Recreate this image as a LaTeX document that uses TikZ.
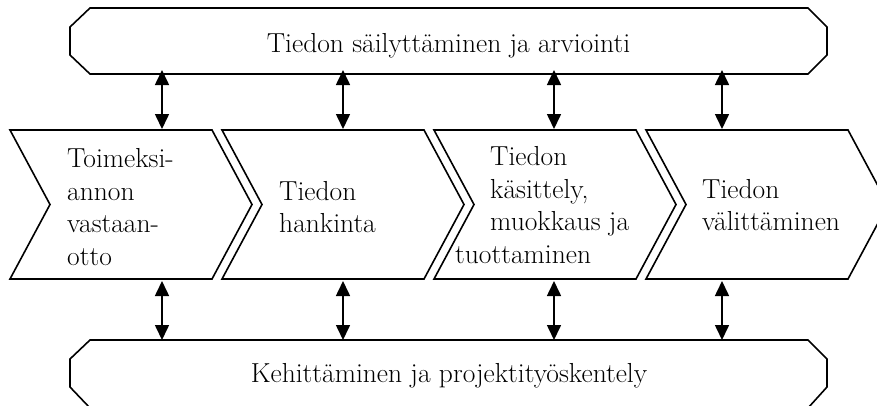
\documentclass[tikz,border=0pt]{standalone}
\usepackage{fontspec}
\usetikzlibrary{arrows.meta}
\begin{document}
\begin{tikzpicture}[x=1pt,y=-1pt,
  outline/.style={draw=black, line width=1.6pt, line join=miter},
  link/.style={line width=1.6pt,
    {Triangle[length=15pt,width=14pt]}-{Triangle[length=15pt,width=14pt]}},
  txt/.style={inner sep=0pt, font=\fontsize{27.5}{33}\selectfont, anchor=base west},
  ctxt/.style={inner sep=0pt, font=\fontsize{27.5}{33}\selectfont, anchor=base},
]
\useasboundingbox (0,0) rectangle (877,405);
\clip (0,0) rectangle (877,405);

% upper and lower bars with chamfered ends
\draw[outline] (90,8) -- (808,8) -- (827,27) -- (827,55) -- (808,74)
  -- (90,74) -- (70,55) -- (70,27) -- cycle;
\draw[outline] (90,340) -- (808,340) -- (827,359) -- (827,387) -- (808,408)
  -- (90,408) -- (70,387) -- (70,359) -- cycle;

% the four process chevrons
\foreach \i [evaluate=\i as \x using 10+212*\i] in {0,1,2,3}{
  \draw[outline] (\x,130) -- ++(202,0) -- ++(40,74.5) -- ++(-40,74.5)
    -- ++(-202,0) -- ++(40,-74.5) -- cycle;
}

% bar labels
\node[ctxt] (upper) at (448.5,52) {Tiedon säilyttäminen ja arviointi};
\node[ctxt] (lower) at (449,382) {Kehittäminen ja projektityöskentely};

% chevron labels
\node[txt] (p1a) at (67,167) {Toimeksi-};
\node[txt] (p1b) at (67,200) {annon};
\node[txt] (p1c) at (67,232) {vastaan-};
\node[txt] (p1d) at (67,265) {otto};

\node[txt] (p2a) at (279,200) {Tiedon};
\node[txt] (p2b) at (279,232) {hankinta};

\node[txt] (p3a) at (490,165) {Tiedon};
\node[txt] (p3b) at (490,198) {käsittely,};
\node[txt] (p3c) at (490,230) {muokkaus ja};
\node[txt] (p3d) at (455,263) {tuottaminen};

\node[txt] (p4a) at (702,198) {Tiedon};
\node[txt] (p4b) at (702,230) {välittäminen};

% connector end points
\foreach \k/\x in {1/162,2/343,3/554,4/722}{
  \coordinate (ub\k) at (\x,70);
  \coordinate (ct\k) at (\x,129);
  \coordinate (cb\k) at (\x,281);
  \coordinate (lb\k) at (\x,340);
}

% two-way links between bars and chevrons
\foreach \k in {1,2,3,4}{
  \draw[link] (ub\k) -- (ct\k);
  \draw[link] (cb\k) -- (lb\k);
}
\end{tikzpicture}
\end{document}
